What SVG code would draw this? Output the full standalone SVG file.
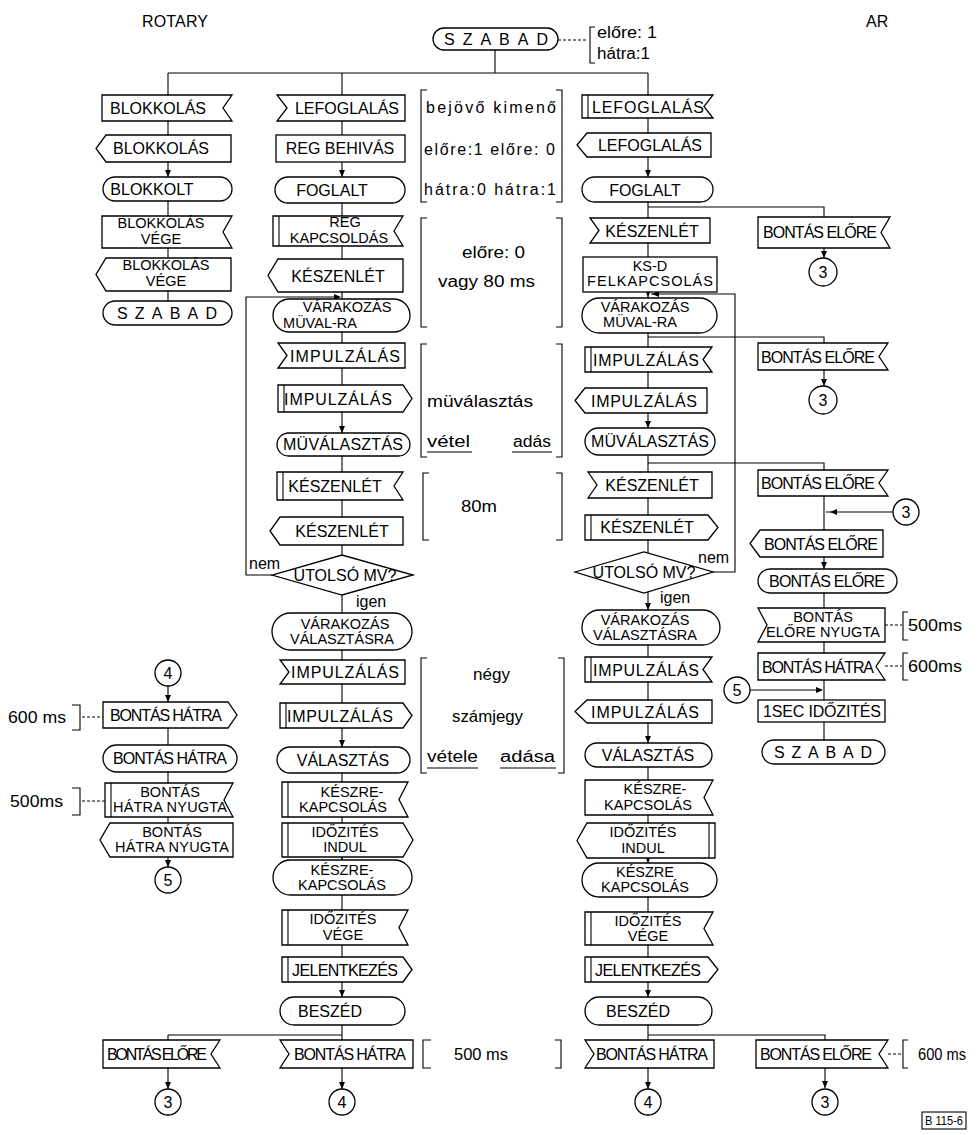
<svg xmlns="http://www.w3.org/2000/svg" width="980" height="1135" viewBox="0 0 980 1135">
<style>
.s{fill:#fff;stroke:#000;stroke-width:1.3}
.l{fill:none;stroke:#000;stroke-width:1.1}
.d{fill:none;stroke:#000;stroke-width:1;stroke-dasharray:3 2}
.t{font-family:"Liberation Sans",Arial,sans-serif;font-size:16px;fill:#000;text-anchor:middle}
.t2{font-family:"Liberation Sans",Arial,sans-serif;font-size:14.5px;fill:#000;text-anchor:middle}
.n{font-family:"Liberation Sans",Arial,sans-serif;font-size:16px;fill:#000}
.ah{fill:#000}
</style>
<defs>
<path id="ad" d="M-3 -7L3 -7L0 0Z"/>
<path id="ar" d="M-7 -3L-7 3L0 0Z"/>
<path id="al" d="M7 -3L7 3L0 0Z"/>
</defs>
<text class="n" x="142" y="27" textLength="66">ROTARY</text>
<text class="n" x="866" y="27">AR</text>

<g id="connectors">
<path class="l" d="M168 73H648M495 50V73M168 73V301M342 73V1089M648 73V1089M648 207H824V258M648 337H824V386M648 463H824V740M168 686V867M168 1035H342M168 1035V1089M648 1035H825V1088"/>
<path class="l" d="M272 575H246V297H338"/>
<path class="l" d="M713 572H735V294H651"/>
<path class="l" d="M893 512H826M750 690H822"/>
<path class="d" d="M558 40H588M885 625H902M885 666H902M82 717H103M82 801H105M888 1054H901"/>
<g class="ah">
<use href="#ad" x="168" y="177"/><use href="#ad" x="168" y="702"/><use href="#ad" x="168" y="867"/><use href="#ad" x="168" y="1089"/>
<use href="#ad" x="342" y="177"/><use href="#ar" x="341" y="297"/><use href="#ad" x="342" y="433"/><use href="#ad" x="342" y="747"/><use href="#ad" x="342" y="860"/><use href="#ad" x="342" y="997"/><use href="#ad" x="342" y="1089"/>
<use href="#ad" x="648" y="177"/><use href="#ad" x="648" y="297"/><use href="#al" x="652" y="294"/><use href="#ad" x="648" y="428"/><use href="#ad" x="648" y="610"/><use href="#ad" x="648" y="743"/><use href="#ad" x="648" y="863"/><use href="#ad" x="648" y="997"/><use href="#ad" x="648" y="1089"/>
<use href="#ad" x="824" y="258"/><use href="#ad" x="824" y="386"/><use href="#al" x="830" y="512"/><use href="#ad" x="824" y="569"/><use href="#ar" x="823" y="690"/><use href="#ad" x="825" y="1088"/>
</g>
<text class="n" x="249" y="569">nem</text>
<text class="n" x="356" y="607">igen</text>
<text class="n" x="698" y="563">nem</text>
<text class="n" x="660" y="603">igen</text>
</g>

<g id="top-szabad">
<rect class="s" x="433" y="28" width="125" height="22" rx="11"/>
<text class="t" x="496" y="45" textLength="104" lengthAdjust="spacing">SZABAD</text>
<path class="l" d="M595 27H590V63H595"/>
<text class="n" x="597" y="38" textLength="60" lengthAdjust="spacingAndGlyphs">előre: 1</text>
<text class="n" x="597" y="59" textLength="53" lengthAdjust="spacingAndGlyphs">hátra:1</text>
</g>

<!-- Column A -->
<g id="a1"><path class="s" d="M102 95H232L223 108L232 121H102Z"/><text class="t" x="158" y="114">BLOKKOLÁS</text></g>
<g id="a2"><path class="s" d="M106 135H231V162H106L96 148.5Z"/><text class="t" x="161" y="154">BLOKKOLÁS</text></g>
<g id="a3"><rect class="s" x="103" y="177" width="129" height="24" rx="12"/><text class="t" x="152" y="195">BLOKKOLT</text></g>
<g id="a4"><path class="s" d="M102 216H232L223 232L232 248H102Z"/><text class="t2" x="161" y="228">BLOKKOLÁS</text><text class="t2" x="161" y="244">VÉGE</text></g>
<g id="a5"><path class="s" d="M106 258H231V291H106L96 274.5Z"/><text class="t2" x="166" y="270">BLOKKOLÁS</text><text class="t2" x="166" y="286">VÉGE</text></g>
<g id="a6"><rect class="s" x="103" y="301" width="129" height="24" rx="12"/><text class="t" x="167" y="319" textLength="100" lengthAdjust="spacing">SZABAD</text></g>
<g id="a-c4"><circle class="s" cx="168" cy="673" r="13"/><text class="t" x="168" y="679">4</text></g>
<g id="a7"><path class="s" d="M103 702H228L237 715L228 728H103Z"/><text class="t" x="166" y="721" textLength="112">BONTÁS HÁTRA</text>
<path class="l" d="M72 705H80V730H72"/><text class="n" x="8" y="723" textLength="58" lengthAdjust="spacingAndGlyphs">600 ms</text></g>
<g id="a8"><rect class="s" x="103" y="745" width="134" height="27" rx="13.5"/><text class="t" x="170" y="764" textLength="114">BONTÁS HÁTRA</text></g>
<g id="a9"><path class="s" d="M105 783H233L224 800L233 817H105Z"/><path class="l" d="M111 783V817"/><text class="t2" x="170" y="797">BONTÁS</text><text class="t2" x="170" y="812" textLength="114">HÁTRA NYUGTA</text>
<path class="l" d="M72 788H80V815H72"/><text class="n" x="10" y="807" textLength="53" lengthAdjust="spacingAndGlyphs">500ms</text></g>
<g id="a10"><path class="s" d="M110 823H233V857H110L100 840Z"/><text class="t2" x="172" y="837">BONTÁS</text><text class="t2" x="172" y="852" textLength="114">HÁTRA NYUGTA</text></g>
<g id="a-c5"><circle class="s" cx="168" cy="880" r="13"/><text class="t" x="168" y="886">5</text></g>
<g id="a11"><path class="s" d="M103 1040H220L211 1054L220 1068H103Z"/><text class="t" x="157" y="1060" textLength="100">BONTÁS ELŐRE</text></g>
<g id="a-c3"><circle class="s" cx="168" cy="1102" r="13"/><text class="t" x="168" y="1108">3</text></g>

<!-- Column B -->
<g id="b1"><path class="s" d="M277 95H405V121H277L287 108Z"/><text class="t" x="347" y="114">LEFOGLALÁS</text></g>
<g id="b2"><rect class="s" x="276" y="135" width="129" height="27"/><text class="t" x="340" y="154">REG BEHIVÁS</text></g>
<g id="b3"><rect class="s" x="275" y="177" width="130" height="26" rx="13"/><text class="t" x="332" y="196">FOGLALT</text></g>
<g id="b4"><path class="s" d="M273 216H403L394 231L403 246H273Z"/><path class="l" d="M279 216V246"/><text class="t2" x="345" y="227">REG</text><text class="t2" x="339" y="243">KAPCSOLDÁS</text></g>
<g id="b5"><path class="s" d="M278 259H403V292H278L268 275.5Z"/><text class="t" x="338" y="282">KÉSZENLÉT</text></g>
<g id="b6"><rect class="s" x="273" y="299" width="137" height="33" rx="16.5"/><text class="t2" x="347" y="312">VÁRAKOZÁS</text><text class="t2" x="320" y="328">MÜVAL-RA</text></g>
<g id="b7"><path class="s" d="M278 343H405V368H278L287 355.5Z"/><text class="t" x="345" y="362" textLength="110">IMPULZÁLÁS</text></g>
<g id="b8"><path class="s" d="M278 385H403L412 398.5L403 412H278Z"/><path class="l" d="M284 385V412"/><text class="t" x="338" y="405" textLength="108">IMPULZÁLÁS</text></g>
<g id="b9"><rect class="s" x="277" y="433" width="133" height="23" rx="11.5"/><text class="t" x="343" y="450" textLength="120">MÜVÁLASZTÁS</text></g>
<g id="b10"><path class="s" d="M277 472H403L394 486L403 500H277Z"/><path class="l" d="M283 472V500"/><text class="t" x="335" y="492">KÉSZENLÉT</text></g>
<g id="b11"><path class="s" d="M280 517H403V545H280L270 531Z"/><text class="t" x="342" y="537">KÉSZENLÉT</text></g>
<g id="b12"><path class="s" d="M272 575L342 555L413 575L342 595Z"/><text class="t" x="345" y="581">UTOLSÓ MV?</text></g>
<g id="b13"><rect class="s" x="272" y="613" width="140" height="37" rx="18.5"/><text class="t2" x="345" y="629">VÁRAKOZÁS</text><text class="t2" x="342" y="644">VÁLASZTÁSRA</text></g>
<g id="b14"><path class="s" d="M280 660H405V684H280L289 672Z"/><text class="t" x="345" y="678" textLength="108">IMPULZÁLÁS</text></g>
<g id="b15"><path class="s" d="M280 703H403L412 715.5L403 728H280Z"/><path class="l" d="M286 703V728"/><text class="t" x="340" y="722" textLength="106">IMPULZÁLÁS</text></g>
<g id="b16"><rect class="s" x="277" y="747" width="133" height="26" rx="13"/><text class="t" x="343" y="766">VÁLASZTÁS</text></g>
<g id="b17"><path class="s" d="M282 782H408L399 799.5L408 817H282Z"/><path class="l" d="M288 782V817"/><text class="t2" x="352" y="797">KÉSZRE-</text><text class="t2" x="343" y="812">KAPCSOLÁS</text></g>
<g id="b18"><path class="s" d="M282 823H403L413 840L403 857H282Z"/><path class="l" d="M288 823V857"/><text class="t2" x="345" y="837">IDŐZITÉS</text><text class="t2" x="345" y="852">INDUL</text></g>
<g id="b19"><rect class="s" x="273" y="860" width="139" height="35" rx="17.5"/><text class="t2" x="342" y="875">KÉSZRE-</text><text class="t2" x="342" y="890">KAPCSOLÁS</text></g>
<g id="b20"><path class="s" d="M282 910H408L399 927.5L408 945H282Z"/><path class="l" d="M288 910V945"/><text class="t2" x="343" y="924">IDŐZITÉS</text><text class="t2" x="343" y="940">VÉGE</text></g>
<g id="b21"><path class="s" d="M282 957H403L412 969.5L403 982H282Z"/><path class="l" d="M288 957V982"/><text class="t" x="345" y="976" textLength="106">JELENTKEZÉS</text></g>
<g id="b22"><rect class="s" x="280" y="997" width="125" height="28" rx="14"/><text class="t" x="330" y="1017">BESZÉD</text></g>
<g id="b23"><path class="s" d="M280 1040H413V1068H280L289 1054Z"/><text class="t" x="350" y="1060" textLength="112">BONTÁS HÁTRA</text></g>
<g id="b-c4"><circle class="s" cx="342" cy="1102" r="13"/><text class="t" x="342" y="1108">4</text></g>

<!-- Notes (brackets) -->
<g id="note1"><path class="l" d="M427 90H421V202H427M556 90H562V202H556"/>
<text class="n" x="426" y="113" textLength="130" lengthAdjust="spacing">bejövő  kimenő</text><text class="n" x="424" y="155" textLength="131" lengthAdjust="spacing">előre:1  előre: 0</text><text class="n" x="424" y="195" textLength="132" lengthAdjust="spacing">hátra:0  hátra:1</text></g>
<g id="note2"><path class="l" d="M427 218H421V327H427M556 218H562V327H556"/>
<text class="n" x="462" y="258" textLength="63" lengthAdjust="spacingAndGlyphs">előre: 0</text><text class="n" x="438" y="287" textLength="97" lengthAdjust="spacingAndGlyphs">vagy 80 ms</text></g>
<g id="note3"><path class="l" d="M427 344H421V457H427M556 344H562V457H556"/>
<text class="n" x="427" y="407" textLength="106" lengthAdjust="spacingAndGlyphs">müválasztás</text><text class="n" x="427" y="447" textLength="43" lengthAdjust="spacingAndGlyphs">vétel</text><text class="n" x="513" y="447" textLength="38" lengthAdjust="spacingAndGlyphs">adás</text>
<path class="l" d="M427 452H472M512 452H552"/></g>
<g id="note4"><path class="l" d="M429 473H423V540H429M556 473H562V540H556"/><text class="n" x="461" y="512" textLength="36" lengthAdjust="spacingAndGlyphs">80m</text></g>
<g id="note5"><path class="l" d="M427 658H421V773H427M558 658H564V773H558"/>
<text class="n" x="473" y="680" textLength="37" lengthAdjust="spacingAndGlyphs">négy</text><text class="n" x="452" y="722" textLength="71" lengthAdjust="spacingAndGlyphs">számjegy</text><text class="n" x="427" y="762" textLength="51" lengthAdjust="spacingAndGlyphs">vétele</text><text class="n" x="500" y="762" textLength="55" lengthAdjust="spacingAndGlyphs">adása</text>
<path class="l" d="M427 768H478M500 768H556"/></g>
<g id="note6"><path class="l" d="M431 1040H423V1068H431M555 1040H561V1068H555"/><text class="n" x="454" y="1060" textLength="54" lengthAdjust="spacingAndGlyphs">500 ms</text></g>

<!-- Column C -->
<g id="c1"><path class="s" d="M582 95H713L704 106.5L713 118H582Z"/><path class="l" d="M588 95V118"/><text class="t" x="648" y="113" textLength="112">LEFOGLALÁS</text></g>
<g id="c2"><path class="s" d="M587 133H711V157H587L577 145Z"/><text class="t" x="650" y="151">LEFOGLALÁS</text></g>
<g id="c3"><rect class="s" x="582" y="177" width="131" height="25" rx="12.5"/><text class="t" x="645" y="196">FOGLALT</text></g>
<g id="c4"><path class="s" d="M590 218H710V243H590L599 230.5Z"/><text class="t" x="652" y="237">KÉSZENLÉT</text></g>
<g id="c5"><rect class="s" x="583" y="257" width="134" height="35"/><text class="t2" x="650" y="271">KS-D</text><text class="t2" x="650" y="286" textLength="126">FELKAPCSOLÁS</text></g>
<g id="c6"><rect class="s" x="582" y="298" width="135" height="35" rx="17.5"/><text class="t2" x="645" y="312">VÁRAKOZÁS</text><text class="t2" x="640" y="327">MÜVAL-RA</text></g>
<g id="c7"><path class="s" d="M585 347H712L703 359.5L712 372H585Z"/><path class="l" d="M591 347V372"/><text class="t" x="646" y="366" textLength="106">IMPULZÁLÁS</text></g>
<g id="c8"><path class="s" d="M585 388H707V413H585L575 400.5Z"/><text class="t" x="644" y="407" textLength="106">IMPULZÁLÁS</text></g>
<g id="c9"><rect class="s" x="585" y="428" width="130" height="27" rx="13.5"/><text class="t" x="650" y="447" textLength="118">MÜVÁLASZTÁS</text></g>
<g id="c10"><path class="s" d="M588 472H712V498H588L597 485Z"/><text class="t" x="652" y="491">KÉSZENLÉT</text></g>
<g id="c11"><path class="s" d="M585 515H708L718 527.5L708 540H585Z"/><path class="l" d="M591 515V540"/><text class="t" x="647" y="533">KÉSZENLÉT</text></g>
<g id="c12"><path class="s" d="M575 572L644 552L713 572L644 593Z"/><text class="t" x="644" y="578">UTOLSÓ MV?</text></g>
<g id="c13"><rect class="s" x="582" y="610" width="138" height="35" rx="17.5"/><text class="t2" x="645" y="625">VÁRAKOZÁS</text><text class="t2" x="645" y="640">VÁLASZTÁSRA</text></g>
<g id="c14"><path class="s" d="M585 657H712L703 669.5L712 682H585Z"/><path class="l" d="M591 657V682"/><text class="t" x="646" y="676" textLength="106">IMPULZÁLÁS</text></g>
<g id="c15"><path class="s" d="M587 700H712V723H587L575 711.5Z"/><text class="t" x="645" y="718" textLength="108">IMPULZÁLÁS</text></g>
<g id="c16"><rect class="s" x="585" y="743" width="127" height="24" rx="12"/><text class="t" x="648" y="761">VÁLASZTÁS</text></g>
<g id="c17"><path class="s" d="M585 780H713L704 797.5L713 815H585Z"/><text class="t2" x="655" y="794">KÉSZRE-</text><text class="t2" x="648" y="810">KAPCSOLÁS</text></g>
<g id="c18"><path class="s" d="M587 823H715V858H587L577 840.5Z"/><path class="l" d="M709 823V858"/><text class="t2" x="643" y="837">IDŐZITÉS</text><text class="t2" x="643" y="853">INDUL</text></g>
<g id="c19"><rect class="s" x="582" y="863" width="135" height="34" rx="17"/><text class="t2" x="645" y="877">KÉSZRE</text><text class="t2" x="645" y="892">KAPCSOLÁS</text></g>
<g id="c20"><path class="s" d="M585 912H713L704 928.5L713 945H585Z"/><path class="l" d="M591 912V945"/><text class="t2" x="648" y="926">IDŐZITÉS</text><text class="t2" x="648" y="941">VÉGE</text></g>
<g id="c21"><path class="s" d="M585 957H708L718 969.5L708 982H585Z"/><path class="l" d="M591 957V982"/><text class="t" x="648" y="976" textLength="106">JELENTKEZÉS</text></g>
<g id="c22"><rect class="s" x="585" y="997" width="127" height="28" rx="14"/><text class="t" x="638" y="1017">BESZÉD</text></g>
<g id="c23"><path class="s" d="M585 1040H714V1068H585L594 1054Z"/><text class="t" x="652" y="1060" textLength="112">BONTÁS HÁTRA</text></g>
<g id="c-c4"><circle class="s" cx="648" cy="1102" r="13"/><text class="t" x="648" y="1108">4</text></g>

<!-- Column D -->
<g id="d1"><path class="s" d="M758 217H890L881 232.5L890 248H758Z"/><text class="t" x="820" y="238" textLength="114">BONTÁS ELŐRE</text></g>
<g id="d-c3a"><circle class="s" cx="823" cy="272" r="14"/><text class="t" x="823" y="278">3</text></g>
<g id="d2"><path class="s" d="M758 343H888L879 356.5L888 370H758Z"/><text class="t" x="818" y="363" textLength="114">BONTÁS ELŐRE</text></g>
<g id="d-c3b"><circle class="s" cx="823" cy="400" r="14"/><text class="t" x="823" y="406">3</text></g>
<g id="d3"><path class="s" d="M758 470H888L879 483L888 496H758Z"/><text class="t" x="818" y="489" textLength="114">BONTÁS ELŐRE</text></g>
<g id="d-c3c"><circle class="s" cx="906" cy="512" r="13"/><text class="t" x="906" y="518">3</text></g>
<g id="d4"><path class="s" d="M760 530H883V557H760L750 543.5Z"/><text class="t" x="821" y="550" textLength="114">BONTÁS ELŐRE</text></g>
<g id="d5"><rect class="s" x="758" y="569" width="139" height="24" rx="12"/><text class="t" x="827" y="587" textLength="116">BONTÁS ELŐRE</text></g>
<g id="d6"><path class="s" d="M758 608H885V642H758L767 625Z"/><text class="t2" x="823" y="622">BONTÁS</text><text class="t2" x="823" y="637" textLength="114">ELŐRE NYUGTA</text>
<path class="l" d="M908 612H903V640H908"/><text class="n" x="908" y="631" textLength="54" lengthAdjust="spacingAndGlyphs">500ms</text></g>
<g id="d7"><path class="s" d="M758 653H885L876 666.5L885 680H758Z"/><text class="t" x="818" y="673" textLength="112">BONTÁS HÁTRA</text>
<path class="l" d="M908 653H903V680H908"/><text class="n" x="908" y="672" textLength="54" lengthAdjust="spacingAndGlyphs">600ms</text></g>
<g id="d-c5"><circle class="s" cx="737" cy="690" r="13"/><text class="t" x="737" y="696">5</text></g>
<g id="d8"><rect class="s" x="758" y="700" width="127" height="22"/><text class="t" x="822" y="717" textLength="118">1SEC IDŐZITÉS</text></g>
<g id="d9"><rect class="s" x="762" y="740" width="123" height="24" rx="12"/><text class="t" x="823" y="758" textLength="98" lengthAdjust="spacing">SZABAD</text></g>
<g id="d10"><path class="s" d="M756 1040H888L879 1054L888 1068H756Z"/><text class="t" x="816" y="1060" textLength="112">BONTÁS ELŐRE</text>
<path class="l" d="M908 1040H903V1068H908"/><text class="n" x="918" y="1060" textLength="48" lengthAdjust="spacingAndGlyphs">600 ms</text></g>
<g id="d-c3d"><circle class="s" cx="825" cy="1102" r="13"/><text class="t" x="825" y="1108">3</text></g>

<g id="label"><rect class="l" x="922" y="1112" width="44" height="17"/><text class="n" x="925" y="1125" style="font-size:12px" textLength="38" lengthAdjust="spacingAndGlyphs">B 115-6</text></g>
</svg>
